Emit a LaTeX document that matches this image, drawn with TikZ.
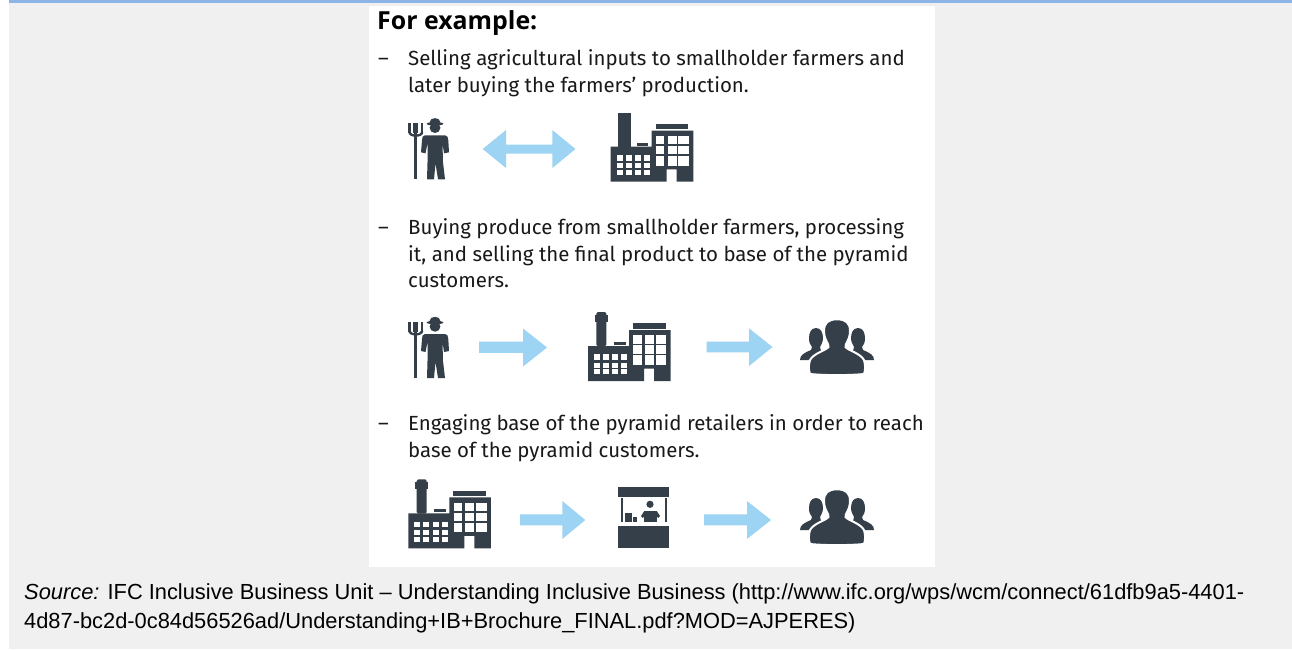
\documentclass[tikz,border=0pt]{standalone}
\usepackage{fontspec}
\setmainfont{Liberation Sans}
\newfontfamily\brochure{Fira Sans}
\newfontfamily\headfont{Open Sans}
\definecolor{pagegray}{HTML}{F0F0F0}
\definecolor{barblue}{HTML}{8DB4E6}
\definecolor{icondark}{HTML}{353F49}
\definecolor{arrowblue}{HTML}{9DD3F3}
\tikzset{
  x=1pt,y=-1pt,
  icon/.style={fill=icondark,draw=none},
  hole/.style={fill=white,draw=none},
  bodytext/.style={anchor=base west,inner sep=0pt,font=\brochure\fontsize{20.45}{24}\selectfont,text=black!90},
  dashmark/.style={anchor=base,inner sep=0pt,font=\brochure\fontsize{20.45}{24}\selectfont,text=black!90},
  srctext/.style={anchor=base west,inner sep=0pt,font=\fontsize{21.85}{26}\selectfont,text=black},
  blockarrow/.style={fill=arrowblue,draw=none},
  farmer/.pic={
    % fork
    \fill[icon] (-2,-27) rectangle (1.3,29);
    \fill[icon] (-7.7,-27.5) rectangle (-5.3,-17);
    \fill[icon] (-3.5,-27.5) rectangle (-1.5,-17);
    \fill[icon] (0.2,-27.5) rectangle (2.2,-17);
    \fill[icon] (4.9,-27.5) rectangle (7.3,-17);
    \fill[icon] (-7.7,-18) .. controls (-7.7,-12) and (7.3,-12) .. (7.3,-18) -- (4.9,-18) .. controls (4.9,-15) and (-5.3,-15) .. (-5.3,-18) -- cycle;
    % hat and head
    \fill[icon] (19,-26.5) ellipse (8.3 and 1.8);
    \fill[icon] (19,-28.5) ellipse (5.2 and 3.7);
    \fill[icon] (19,-22.5) ellipse (5.4 and 5.2);
    % body
    \fill[icon] (9,-15) -- (29,-15) .. controls (31.5,-15) and (32,-13) .. (32.3,-10) -- (33,2) -- (28,3) -- (26.5,-7) -- (27,12) -- (29,29) -- (22,29) -- (19.5,13) -- (18,29) -- (11,29) -- (11.5,12) -- (11.5,-7) -- (9.5,3) -- (5,2) -- (6,-10) .. controls (6.2,-13) and (6.5,-15) .. (9,-15) -- cycle;
  },
  factory/.pic={
    % vent, left block, right block, roof
    \fill[icon] (-8.3,-5.3) rectangle (3.3,-2.3);
    \fill[icon] (10.7,-24) rectangle (43.3,-18.7);
    \fill[icon] (-34.3,-1.3) -- (6.7,-1.3) -- (6.7,-17.3) -- (48.3,-17.3) -- (48.3,33.7) -- (31.7,33.7) -- (31.7,21.3) -- (21.7,21.3) -- (21.7,33.7) -- (-34.3,33.7) -- cycle;
    \foreach \cx in {-28.3,-19.3,-10,-1}
      \foreach \cy/\ch in {7/5.7,15.3/5,22/5}
        \fill[hole] (\cx,\cy) rectangle +(6,\ch);
    \foreach \cx/\cw in {11/8.3,22.7/9,33.3/10.7}
      \foreach \cy/\ch in {-12/8.3,-2/8.3,8/9.7}
        \fill[hole] (\cx,\cy) rectangle +(\cw,\ch);
  },
  plainchimney/.pic={\fill[icon] (-26.7,-34.7) rectangle (-14.3,-1);},
  collarchimney/.pic={
    \fill[icon,rounded corners=1.5pt] (-25.9,-35.3) rectangle (-15.9,-1);
    \fill[icon] (-27.6,-32.6) rectangle (-14.3,-25.3);
  },
  people/.pic={
    % side figures
    \fill[icon] (-21,-19) .. controls (-16,-19) and (-14,-14) .. (-14,-9) .. controls (-14,-5) and (-16,-2) .. (-17,0) -- (-16,4) -- (-8,13) -- (-37,13) .. controls (-37,8) and (-33,6) .. (-26,3) -- (-25,0) .. controls (-27,-2) and (-28,-5) .. (-28,-9) .. controls (-28,-14) and (-26,-19) .. (-21,-19) -- cycle;
    \fill[icon] (21,-19) .. controls (16,-19) and (14,-14) .. (14,-9) .. controls (14,-5) and (16,-2) .. (17,0) -- (16,4) -- (8,13) -- (37,13) .. controls (37,8) and (33,6) .. (26,3) -- (25,0) .. controls (27,-2) and (28,-5) .. (28,-9) .. controls (28,-14) and (26,-19) .. (21,-19) -- cycle;
    % centre figure with its white halo
    \path[icon,draw=white,line width=2pt] (0,-27.7) .. controls (-9,-27.7) and (-13,-24) .. (-13,-16) .. controls (-13,-10) and (-11,-7) .. (-9,-3) -- (-8.5,0) .. controls (-12,4) and (-23,6) .. (-27,13) .. controls (-28.5,18) and (-28.5,23) .. (-27,27) .. controls (-12,28.5) and (12,28.5) .. (27,27) .. controls (28.5,23) and (28.5,18) .. (27,13) .. controls (23,6) and (12,4) .. (8.5,0) -- (9,-3) .. controls (11,-7) and (13,-10) .. (13,-16) .. controls (13,-24) and (9,-27.7) .. (0,-27.7) -- cycle;
  },
  stall/.pic={
    \fill[icon] (-24.7,-28.3) rectangle (26.3,-18);
    \fill[icon] (-21.7,-17) rectangle (-20.3,6.7);
    \fill[icon] (22,-17) rectangle (23.7,6.7);
    \fill[icon] (-24.7,10.7) rectangle (26.3,32.7);
    \fill[icon] (-18,-2.3) rectangle (-11.3,6.7);
    \fill[icon] (-9.7,1.5) rectangle (-5.7,6.7);
    \fill[icon] (7,-10.7) circle (3.6);
    \fill[icon] (1.3,-4) -- (13.7,-4) -- (13.7,6.7) -- (1.3,6.7) -- cycle;
    \fill[icon] (1.3,-4) -- (-2,1) -- (0,3) -- (2,0) -- cycle;
    \fill[icon] (13.7,-4) -- (17,1) -- (15,3) -- (13,0) -- cycle;
  },
}
\begin{document}
\begin{tikzpicture}
\useasboundingbox (0,0) rectangle (1292,649);
\fill[white] (0,0) rectangle (1292,649);
\fill[pagegray] (9,0) rectangle (1292,649);
\fill[barblue] (9,0) rectangle (1292,3);
\fill[white] (369,6) rectangle (935,567);
\node[anchor=base west,inner sep=0pt,font=\headfont\bfseries\fontsize{24.9}{28}\selectfont] (head) at (377,29) {For example:};
\node[dashmark] (d1) at (383.5,65) {–};
\node[bodytext] (t1a) at (408,65) {Selling agricultural inputs to smallholder farmers and};
\node[bodytext] (t1b) at (408,92) {later buying the farmers’ production.};
\node[dashmark] (d2) at (383.5,234) {–};
\node[bodytext] (t2a) at (408,234) {Buying produce from smallholder farmers, processing};
\node[bodytext] (t2b) at (408,261) {it, and selling the final product to base of the pyramid};
\node[bodytext] (t2c) at (408,287) {customers.};
\node[dashmark] (d3) at (383.5,430) {–};
\node[bodytext] (t3a) at (408,430) {Engaging base of the pyramid retailers in order to reach};
\node[bodytext] (t3b) at (408,457) {base of the pyramid customers.};
% row 1
\pic at (416,150.3) {farmer};
\fill[blockarrow] (482.7,149) -- (506,130) -- (506,144.5) -- (552.3,144.5) -- (552.3,130) -- (575.5,149) -- (552.3,168) -- (552.3,153.5) -- (506,153.5) -- (506,168) -- cycle;
\pic at (645,148) {plainchimney};
\pic at (645,148) {factory};
% row 2
\pic at (416,349) {farmer};
\fill[blockarrow] (479,341.5) -- (523,341.5) -- (523,328.5) -- (547,347.5) -- (523,366.5) -- (523,352.8) -- (479,352.8) -- cycle;
\pic at (622.3,347.3) {collarchimney};
\pic at (622.3,347.3) {factory};
\fill[blockarrow] (706.7,341.7) -- (749,341.7) -- (749,328.3) -- (772.5,347) -- (749,366) -- (749,352.3) -- (706.7,352.3) -- cycle;
\pic at (837,347) {people};
% row 3
\pic at (442.6,514.6) {collarchimney};
\pic at (442.6,514.6) {factory};
\fill[blockarrow] (520,514.3) -- (562.3,514.3) -- (562.3,501) -- (585.3,520) -- (562.3,539) -- (562.3,525.3) -- (520,525.3) -- cycle;
\pic at (643,515) {stall};
\fill[blockarrow] (704,514.3) -- (747,514.3) -- (747,501) -- (771,520) -- (747,539) -- (747,525.3) -- (704,525.3) -- cycle;
\pic at (837,517) {people};
% source
\node[srctext] (s1) at (24,599) {\textit{Source:} IFC Inclusive Business Unit – Understanding Inclusive Business (http://www.ifc.org/wps/wcm/connect/61dfb9a5-4401-};
\node[srctext] (s2) at (24,628) {4d87-bc2d-0c84d56526ad/Understanding+IB+Brochure\_FINAL.pdf?MOD=AJPERES)};
\end{tikzpicture}
\end{document}
